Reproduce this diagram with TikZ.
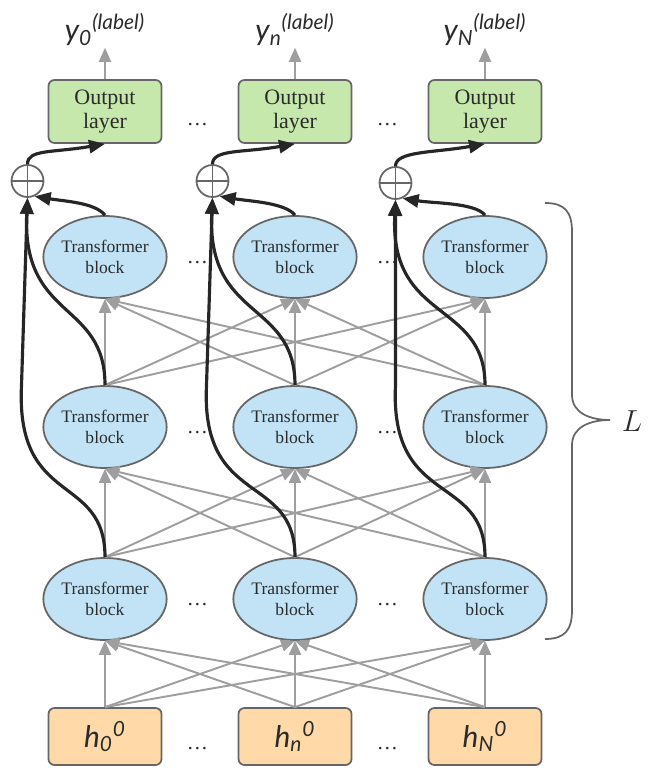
\documentclass[tikz,border=0pt]{standalone}
\usepackage{fontspec}
\setmainfont{Liberation Serif}
\newfontfamily\lblfont{Lato}
\usepackage{tikz}
\usetikzlibrary{arrows.meta,positioning,shapes.geometric,calc}
\definecolor{edgegray}{HTML}{666666}
\definecolor{arrgray}{HTML}{9E9E9E}
\definecolor{darkline}{HTML}{262626}
\definecolor{txt}{HTML}{2B2B2B}
\definecolor{tbfill}{HTML}{C1E3F5}
\definecolor{outfill}{HTML}{C7E8AD}
\definecolor{infill}{HTML}{FFDAA8}

\begin{document}
\begin{tikzpicture}[
  node distance=3.8cm, on grid,
  tblock/.style={ellipse, draw=edgegray, line width=1pt, fill=tbfill,
                 minimum width=2.4cm, minimum height=1.64cm, inner sep=0pt,
                 align=center, text=txt, font=\fontsize{10}{12.3}\selectfont},
  outbox/.style={rectangle, draw=edgegray, line width=1pt, fill=outfill,
                 rounded corners=1.2mm, minimum width=2.26cm,
                 minimum height=1.26cm, align=center, text=txt,
                 font=\fontsize{12.5}{13.5}\selectfont},
  inbox/.style={rectangle, draw=edgegray, line width=1pt, fill=infill,
                rounded corners=1.2mm, minimum width=2.26cm,
                minimum height=1.14cm, text=txt,
                font=\lblfont\itshape\fontsize{17}{18}\selectfont},
  lbl/.style={inner sep=1pt, text=txt, font=\lblfont\itshape\fontsize{17}{18}\selectfont},
  sumc/.style={circle, draw=edgegray, line width=1pt, fill=white,
               minimum size=0.64cm, inner sep=0pt},
  dts/.style={text=txt, font=\fontsize{12}{12}\selectfont, inner sep=0pt},
  gar/.style={draw=arrgray, line width=1.1pt, -{Triangle[length=2.8mm,width=2.4mm]}},
  bar/.style={draw=darkline, line width=1.8pt, -{Triangle[length=3.2mm,width=2.6mm]}},
  pls/.style={draw=edgegray, line width=1pt},
  brc/.style={draw=edgegray, line width=1pt}
]
\useasboundingbox (0,0) rectangle (13.06,-15.54);

% inputs
\node[inbox] (h0) at (2.1,-14.73) {h\textsubscript{0}\textsuperscript{0}};
\node[inbox, right=of h0] (hn) {h\textsubscript{n}\textsuperscript{0}};
\node[inbox, right=of hn] (hN) {h\textsubscript{N}\textsuperscript{0}};

% transformer layers
\node[tblock, above=2.75cm of h0] (t10) {Transformer\\block};
\node[tblock, right=of t10] (t1n) {Transformer\\block};
\node[tblock, right=of t1n] (t1N) {Transformer\\block};
\node[tblock, above=3.44cm of t10] (t20) {Transformer\\block};
\node[tblock, right=of t20] (t2n) {Transformer\\block};
\node[tblock, right=of t2n] (t2N) {Transformer\\block};
\node[tblock, above=3.4cm of t20] (t30) {Transformer\\block};
\node[tblock, right=of t30] (t3n) {Transformer\\block};
\node[tblock, right=of t3n] (t3N) {Transformer\\block};

% outputs
\node[outbox, above=2.91cm of t30] (out0) {Output\\layer};
\node[outbox, right=of out0] (outn) {Output\\layer};
\node[outbox, right=of outn] (outN) {Output\\layer};
\node[lbl, above=1.64cm of out0] (y0) {y\textsubscript{0}\textsuperscript{(label)}};
\node[lbl, above=1.64cm of outn] (yn) {y\textsubscript{n}\textsuperscript{(label)}};
\node[lbl, above=1.64cm of outN] (yN) {y\textsubscript{N}\textsuperscript{(label)}};

% residual sums
\node[sumc, below left=1.39cm and 1.55cm of out0] (s0) {};
\node[sumc, below left=1.39cm and 1.65cm of outn] (sn) {};
\node[sumc, below left=1.43cm and 1.79cm of outN] (sN) {};
\draw[pls] (s0.north)--(s0.south) (s0.west)--(s0.east);
\draw[pls] (sn.north)--(sn.south) (sn.west)--(sn.east);
\draw[pls] (sN.north)--(sN.south) (sN.west)--(sN.east);

% dots
\node[dts, right=1.85cm of out0, yshift=-2.6mm] (d1) {\dots};
\node[dts, right=1.85cm of outn, yshift=-2.6mm] (d2) {\dots};
\node[dts, right=1.85cm of t30, yshift=-1.2mm] (d3) {\dots};
\node[dts, right=1.85cm of t3n, yshift=-1.2mm] (d4) {\dots};
\node[dts, right=1.85cm of t20, yshift=-1.2mm] (d5) {\dots};
\node[dts, right=1.85cm of t2n, yshift=-1.2mm] (d6) {\dots};
\node[dts, right=1.85cm of t10, yshift=-1.2mm] (d7) {\dots};
\node[dts, right=1.85cm of t1n, yshift=-1.2mm] (d8) {\dots};
\node[dts, right=1.85cm of h0, yshift=-2.4mm] (d9) {\dots};
\node[dts, right=1.85cm of hn, yshift=-2.4mm] (d10) {\dots};

% full connections between layers
\path (h0.north) edge[gar] (t10.south) edge[gar] (t1n.south) edge[gar] (t1N.south);
\path (hn.north) edge[gar] (t10.south) edge[gar] (t1n.south) edge[gar] (t1N.south);
\path (hN.north) edge[gar] (t10.south) edge[gar] (t1n.south) edge[gar] (t1N.south);
\path (t10.north) edge[gar] (t20.south) edge[gar] (t2n.south) edge[gar] (t2N.south);
\path (t1n.north) edge[gar] (t20.south) edge[gar] (t2n.south) edge[gar] (t2N.south);
\path (t1N.north) edge[gar] (t20.south) edge[gar] (t2n.south) edge[gar] (t2N.south);
\path (t20.north) edge[gar] (t30.south) edge[gar] (t3n.south) edge[gar] (t3N.south);
\path (t2n.north) edge[gar] (t30.south) edge[gar] (t3n.south) edge[gar] (t3N.south);
\path (t2N.north) edge[gar] (t30.south) edge[gar] (t3n.south) edge[gar] (t3N.south);
\draw[gar] (out0) -- (y0); \draw[gar] (outn) -- (yn); \draw[gar] (outN) -- (yN);

% skip paths into the sums
\path (s0.south |- t20.north) ++(-0.12,0) coordinate (w0);
\path (sn.south |- t2n.north) ++(-0.12,0) coordinate (wn);
\path (sN.south |- t2N.north) ++(0,0) coordinate (wN);
\draw[bar] (t10.north) .. controls +(0,1.7) and +(-0.12,-2.46) .. (w0) -- (s0.south);
\draw[bar] (t20.north) .. controls +(0,1.7) and +(-0.12,-2.46) .. (s0.south);
\draw[bar] (t30.north) .. controls +(-0.2,0.25) and +(0.6,-0.1) .. (s0.-65);
\draw[bar] (s0.north) .. controls +(0,0.3) and +(-1.04,-0.18) .. (out0.south);
\draw[bar] (t1n.north) .. controls +(0,1.7) and +(-0.12,-2.46) .. (wn) -- (sn.south);
\draw[bar] (t2n.north) .. controls +(0,1.7) and +(-0.12,-2.46) .. (sn.south);
\draw[bar] (t3n.north) .. controls +(-0.2,0.25) and +(0.6,-0.1) .. (sn.-65);
\draw[bar] (sn.north) .. controls +(0,0.3) and +(-1.04,-0.18) .. (outn.south);
\draw[bar] (t1N.north) .. controls +(0,1.7) and +(-0.12,-2.46) .. (wN) -- (sN.south);
\draw[bar] (t2N.north) .. controls +(0,1.7) and +(-0.12,-2.46) .. (sN.south);
\draw[bar] (t3N.north) .. controls +(-0.2,0.25) and +(0.6,-0.1) .. (sN.-65);
\draw[bar] (sN.north) .. controls +(0,0.3) and +(-1.04,-0.18) .. (outN.south);

% layer brace
\draw[brc] (10.9,-4.06) .. controls (11.3,-4.06) and (11.44,-4.24) .. (11.44,-4.64)
  -- (11.44,-7.9) .. controls (11.44,-8.26) and (11.8,-8.4) .. (12.2,-8.4)
  .. controls (11.8,-8.4) and (11.44,-8.54) .. (11.44,-8.9)
  -- (11.44,-12.2) .. controls (11.44,-12.6) and (11.3,-12.78) .. (10.9,-12.78);
\node[text=txt, font=\fontsize{16.5}{18}\selectfont] (L) at (12.64,-8.42) {$L$};
\end{tikzpicture}
\end{document}
